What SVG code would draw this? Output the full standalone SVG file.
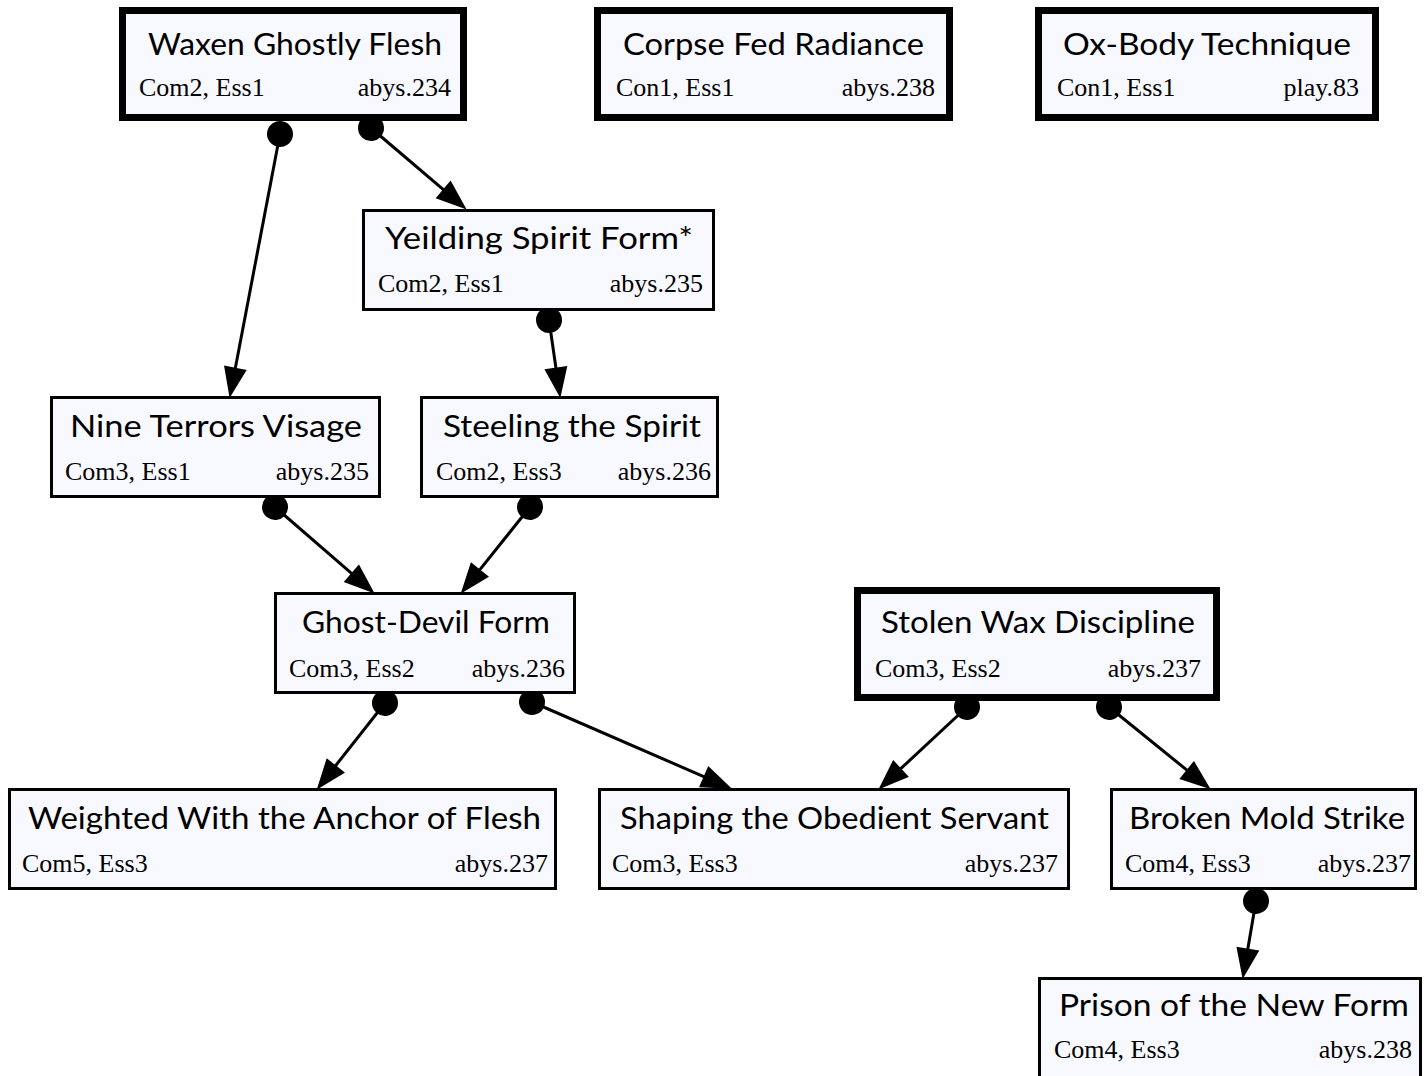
<svg xmlns="http://www.w3.org/2000/svg" width="1428" height="1076" viewBox="0 0 1428 1076">
  <style>
    .box { fill: #f8f8ff; stroke: #000; stroke-width: 3; }
    .box.thick { stroke-width: 7; }
    .title { font-family: "Lato", "Liberation Sans", sans-serif; font-size: 30px; fill: #000; text-anchor: middle; }
    .sub { font-family: "Liberation Serif", serif; font-size: 26px; fill: #000; }
    .r { text-anchor: end; }
    .edge { fill: none; stroke: #000; stroke-width: 3; marker-start: url(#dot); marker-end: url(#arrow); }
  </style>
  <defs>
    <marker id="arrow" markerUnits="userSpaceOnUse" markerWidth="30" markerHeight="24" refX="0" refY="11" orient="auto" overflow="visible">
      <path d="M0,0.5 L28,11 L0,21.5 Z" fill="#000" stroke="#000" stroke-width="1.5" stroke-linejoin="miter"/>
    </marker>
    <marker id="dot" markerUnits="userSpaceOnUse" markerWidth="28" markerHeight="28" refX="14" refY="14" orient="auto" overflow="visible">
      <circle cx="14" cy="14" r="13" fill="#000"/>
    </marker>
  </defs>

  <g id="connectors">
    <path class="edge" d="M280,134 L235.25,368.5"/>
    <path class="edge" d="M371,128 L443.68,189.85"/>
    <path class="edge" d="M549,320 L555.99,368.29"/>
    <path class="edge" d="M275,507 L351.85,573.65"/>
    <path class="edge" d="M530,507 L479.49,570.13"/>
    <path class="edge" d="M385,703 L335.33,766.01"/>
    <path class="edge" d="M532,702 L704.32,776.84"/>
    <path class="edge" d="M967,707 L900.49,768.92"/>
    <path class="edge" d="M1109,707 L1187.24,770.38"/>
    <path class="edge" d="M1256,901 L1247.72,949.4"/>
  </g>

  <g id="waxen-ghostly-flesh">
    <rect class="box thick" x="122.5" y="10.5" width="341" height="107"/>
    <text class="title" x="295" y="55" textLength="294" lengthAdjust="spacingAndGlyphs">Waxen Ghostly Flesh</text>
    <text class="sub" x="139" y="96">Com2, Ess1</text>
    <text class="sub r" x="451" y="96">abys.234</text>
  </g>

  <g id="corpse-fed-radiance">
    <rect class="box thick" x="597.5" y="10.5" width="352" height="107"/>
    <text class="title" x="773.5" y="55" textLength="301" lengthAdjust="spacingAndGlyphs">Corpse Fed Radiance</text>
    <text class="sub" x="616" y="96">Con1, Ess1</text>
    <text class="sub r" x="935" y="96">abys.238</text>
  </g>

  <g id="ox-body-technique">
    <rect class="box thick" x="1038.5" y="10.5" width="337" height="107"/>
    <text class="title" x="1207" y="55" textLength="288" lengthAdjust="spacingAndGlyphs">Ox-Body Technique</text>
    <text class="sub" x="1057" y="96">Con1, Ess1</text>
    <text class="sub r" x="1359" y="96">play.83</text>
  </g>

  <g id="yeilding-spirit-form">
    <rect class="box" x="363.5" y="210.5" width="350" height="99"/>
    <text class="title" x="539" y="249" textLength="308" lengthAdjust="spacingAndGlyphs">Yeilding Spirit Form*</text>
    <text class="sub" x="378" y="292">Com2, Ess1</text>
    <text class="sub r" x="703" y="292">abys.235</text>
  </g>

  <g id="nine-terrors-visage">
    <rect class="box" x="51.5" y="397.5" width="328" height="99"/>
    <text class="title" x="216" y="437" textLength="292" lengthAdjust="spacingAndGlyphs">Nine Terrors Visage</text>
    <text class="sub" x="65" y="480">Com3, Ess1</text>
    <text class="sub r" x="369" y="480">abys.235</text>
  </g>

  <g id="steeling-the-spirit">
    <rect class="box" x="421.5" y="397.5" width="296" height="99"/>
    <text class="title" x="572" y="437" textLength="258" lengthAdjust="spacingAndGlyphs">Steeling the Spirit</text>
    <text class="sub" x="436" y="480">Com2, Ess3</text>
    <text class="sub r" x="711" y="480">abys.236</text>
  </g>

  <g id="ghost-devil-form">
    <rect class="box" x="275.5" y="593.5" width="299" height="99"/>
    <text class="title" x="426" y="633" textLength="248" lengthAdjust="spacingAndGlyphs">Ghost-Devil Form</text>
    <text class="sub" x="289" y="677">Com3, Ess2</text>
    <text class="sub r" x="565" y="677">abys.236</text>
  </g>

  <g id="stolen-wax-discipline">
    <rect class="box thick" x="857.5" y="590.5" width="359" height="107"/>
    <text class="title" x="1038" y="633" textLength="314" lengthAdjust="spacingAndGlyphs">Stolen Wax Discipline</text>
    <text class="sub" x="875" y="677">Com3, Ess2</text>
    <text class="sub r" x="1201" y="677">abys.237</text>
  </g>

  <g id="weighted-with-the-anchor-of-flesh">
    <rect class="box" x="9.5" y="789.5" width="546" height="99"/>
    <text class="title" x="284.5" y="829" textLength="513" lengthAdjust="spacingAndGlyphs">Weighted With the Anchor of Flesh</text>
    <text class="sub" x="22" y="872">Com5, Ess3</text>
    <text class="sub r" x="548" y="872">abys.237</text>
  </g>

  <g id="shaping-the-obedient-servant">
    <rect class="box" x="599.5" y="789.5" width="469" height="99"/>
    <text class="title" x="834.5" y="829" textLength="429" lengthAdjust="spacingAndGlyphs">Shaping the Obedient Servant</text>
    <text class="sub" x="612" y="872">Com3, Ess3</text>
    <text class="sub r" x="1058" y="872">abys.237</text>
  </g>

  <g id="broken-mold-strike">
    <rect class="box" x="1111.5" y="789.5" width="304" height="99"/>
    <text class="title" x="1267" y="829" textLength="276" lengthAdjust="spacingAndGlyphs">Broken Mold Strike</text>
    <text class="sub" x="1125" y="872">Com4, Ess3</text>
    <text class="sub r" x="1411" y="872">abys.237</text>
  </g>

  <g id="prison-of-the-new-form">
    <rect class="box" x="1039.5" y="978.5" width="381" height="99"/>
    <text class="title" x="1234" y="1016" textLength="350" lengthAdjust="spacingAndGlyphs">Prison of the New Form</text>
    <text class="sub" x="1054" y="1058">Com4, Ess3</text>
    <text class="sub r" x="1412" y="1058">abys.238</text>
  </g>
</svg>
